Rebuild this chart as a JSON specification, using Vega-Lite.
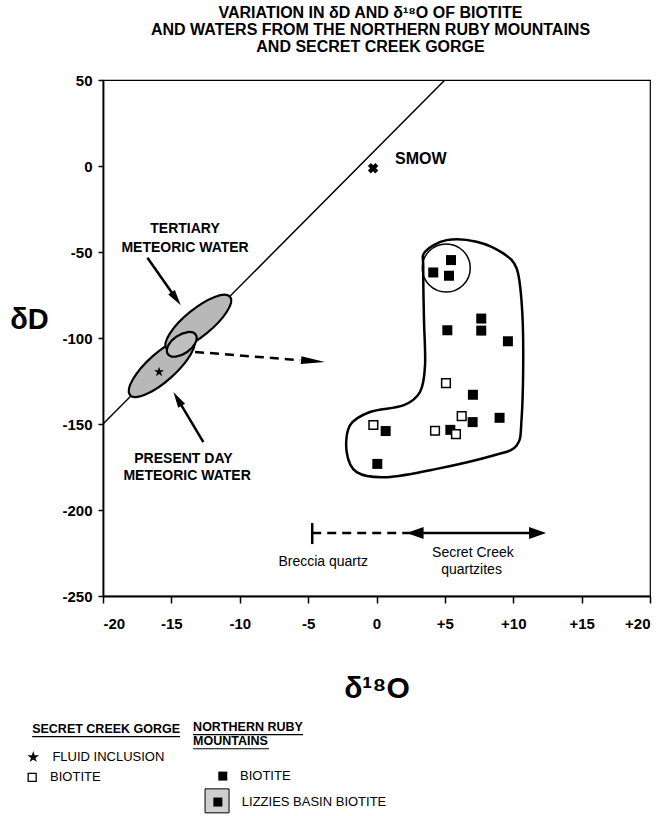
{
  "$schema": "https://vega.github.io/schema/vega-lite/v6.json",
  "autosize": "none",
  "width": 547,
  "height": 516,
  "padding": {"left": 103, "top": 80, "right": 9, "bottom": 220},
  "background": "white",
  "config": {
    "font": "Liberation Sans",
    "view": {"stroke": "black", "strokeWidth": 1.2},
    "axis": {"domainColor": "black", "domainWidth": 1.8, "tickColor": "black", "tickWidth": 1.5, "labelColor": "black", "titleColor": "black", "grid": false, "labelFont": "Liberation Sans", "titleFont": "Liberation Sans"}
  },
  "title": {
    "text": ["VARIATION IN   δD AND  δ¹⁸O  OF BIOTITE", "AND WATERS FROM THE NORTHERN RUBY MOUNTAINS", "AND SECRET CREEK GORGE"],
    "fontSize": 16, "fontWeight": "bold", "lineHeight": 17, "offset": 18, "dx": -6, "color": "black", "font": "Liberation Sans", "anchor": "middle", "frame": "group"
  },
  "datasets": {
    "mwl": [{"x": -20, "y": -150}, {"x": 5, "y": 50}],
    "boot": [
      {"i": 1, "x": 3.55, "y": -49.9}, {"i": 2, "x": 5.13, "y": -43.1}, {"i": 3, "x": 7.32, "y": -44.0},
      {"i": 4, "x": 9.27, "y": -50.8}, {"i": 5, "x": 10.25, "y": -59.6}, {"i": 6, "x": 10.61, "y": -79.0},
      {"i": 7, "x": 10.73, "y": -108.1}, {"i": 8, "x": 10.61, "y": -146.9}, {"i": 9, "x": 10.25, "y": -162.5},
      {"i": 10, "x": 8.54, "y": -168.3}, {"i": 11, "x": 4.40, "y": -176.1}, {"i": 12, "x": 0.75, "y": -180.9},
      {"i": 13, "x": -1.45, "y": -178.0}, {"i": 14, "x": -2.18, "y": -166.3}, {"i": 15, "x": -1.94, "y": -150.8},
      {"i": 16, "x": -0.48, "y": -143.0}, {"i": 17, "x": 1.96, "y": -139.2}, {"i": 18, "x": 3.18, "y": -131.4},
      {"i": 19, "x": 3.55, "y": -115.9}, {"i": 20, "x": 3.47, "y": -88.7}, {"i": 21, "x": 3.42, "y": -59.6}
    ],
    "nrm": [
      {"x": 5.45, "y": -54.7}, {"x": 4.15, "y": -61.9}, {"x": 5.30, "y": -63.8}, {"x": 5.18, "y": -95.5},
      {"x": 7.66, "y": -88.7}, {"x": 7.66, "y": -95.7}, {"x": 9.61, "y": -101.9}, {"x": 7.05, "y": -133.0},
      {"x": 9.0, "y": -146.4}, {"x": 7.03, "y": -148.9}, {"x": 0.67, "y": -154.1}, {"x": 5.40, "y": -153.4},
      {"x": 0.06, "y": -173.2}
    ],
    "scg": [
      {"x": 5.08, "y": -126.2}, {"x": 6.23, "y": -145.4}, {"x": -0.23, "y": -150.6}, {"x": 4.28, "y": -153.9}, {"x": 5.81, "y": -155.9}
    ]
  },
  "encoding": {
    "x": {"field": "x", "type": "quantitative", "scale": {"domain": [-20, 20], "nice": false, "zero": false},
      "axis": {"values": [-20, -15, -10, -5, 0, 5, 10, 15, 20], "labelExpr": "datum.value > 0 ? '+' + format(datum.value, 'd') : (datum.value < 0 ? '-' + format(-datum.value, 'd') : '0')",
        "labelFontSize": 15, "labelFontWeight": "bold", "tickSize": 7, "labelPadding": 13,
        "title": "δ¹⁸O", "titleFontSize": 30, "titleFontWeight": "bold", "titleBaseline": "alphabetic", "titleY": 101}},
    "y": {"field": "y", "type": "quantitative", "scale": {"domain": [-250, 50], "nice": false, "zero": false},
      "axis": {"values": [-250, -200, -150, -100, -50, 0, 50], "labelExpr": "datum.value < 0 ? '-' + format(-datum.value, 'd') : format(datum.value, 'd')",
        "labelFontSize": 15, "labelFontWeight": "bold", "tickSize": 5, "labelPadding": 6,
        "title": "δD", "titleFontSize": 29, "titleFontWeight": "bold", "titleAngle": 0, "titleAlign": "center", "titleBaseline": "alphabetic", "titleX": -74, "titleY": 248}}
  },
  "layer": [
    {"data": {"name": "mwl"}, "mark": {"type": "line", "color": "black", "strokeWidth": 1.5, "clip": true}},
    {"data": {"values": [{"x": -15.70, "y": -116.8}]},
      "mark": {"type": "point", "shape": "M-1,0A1,0.33,0,1,1,1,0A1,0.33,0,1,1,-1,0Z", "size": 7225, "angle": -41.8, "filled": true, "fill": "#b8b8b8", "stroke": "black", "strokeWidth": 2.2, "opacity": 1}},
    {"data": {"values": [{"x": -13.03, "y": -91.1}]},
      "mark": {"type": "point", "shape": "M-1,0A1,0.33,0,1,1,1,0A1,0.33,0,1,1,-1,0Z", "size": 6724, "angle": -39.2, "filled": true, "fill": "#b8b8b8", "stroke": "black", "strokeWidth": 2.2, "opacity": 1}},
    {"data": {"values": [{"x": -14.24, "y": -103.7}]},
      "mark": {"type": "point", "shape": "M-1,0A1,0.55,0,1,1,1,0A1,0.55,0,1,1,-1,0Z", "size": 1156, "angle": -35, "filled": true, "fill": "#c0c0c0", "stroke": "black", "strokeWidth": 2.2, "opacity": 1}},
    {"data": {"values": [{"x": -15.9, "y": -119.7}]},
      "mark": {"type": "point", "shape": "M0,-1L0.223,-0.307L0.951,-0.309L0.361,0.117L0.588,0.809L0,0.38L-0.588,0.809L-0.361,0.117L-0.951,-0.309L-0.223,-0.307Z", "size": 110, "filled": true, "color": "black", "opacity": 1}},
    {"data": {"values": [{"x": -16.75, "y": -53.3, "x2": -14.65, "y2": -77.2}, {"x": -12.66, "y": -160.5, "x2": -14.55, "y2": -135.4}, {"x": 2.82, "y": -213.4, "x2": 11.78, "y2": -213.4}, {"x": -4.7, "y": -207.6, "x2": -4.7, "y2": -219.8}]},
      "mark": {"type": "rule", "color": "black", "strokeWidth": 2.5},
      "encoding": {"x2": {"field": "x2"}, "y2": {"field": "y2"}}},
    {"data": {"values": [{"x": -13.27, "y": -108.1, "x2": -5.59, "y2": -112.9}, {"x": -4.7, "y": -213.4, "x2": 2.8, "y2": -213.4}]},
      "mark": {"type": "rule", "color": "black", "strokeWidth": 2.5, "strokeDash": [9, 6]},
      "encoding": {"x2": {"field": "x2"}, "y2": {"field": "y2"}}},
    {"data": {"values": [{"x": -14.65, "y": -77.2}]},
      "mark": {"type": "point", "shape": "M0,-1L0.5,1L-0.5,1Z", "size": 256, "angle": 144.8, "filled": true, "color": "black", "opacity": 1}},
    {"data": {"values": [{"x": -14.55, "y": -135.4}]},
      "mark": {"type": "point", "shape": "M0,-1L0.5,1L-0.5,1Z", "size": 256, "angle": -30.9, "filled": true, "color": "black", "opacity": 1}},
    {"data": {"values": [{"x": -4.64, "y": -113.4}]},
      "mark": {"type": "point", "shape": "M0,-1L0.33,1L-0.33,1Z", "size": 576, "angle": 94.4, "filled": true, "color": "black", "opacity": 1}},
    {"data": {"values": [{"x": 2.82, "y": -213.4}]},
      "mark": {"type": "point", "shape": "M0,-1L0.7,1L-0.7,1Z", "size": 289, "angle": -90, "filled": true, "color": "black", "opacity": 1}},
    {"data": {"values": [{"x": 11.78, "y": -213.4}]},
      "mark": {"type": "point", "shape": "M0,-1L0.7,1L-0.7,1Z", "size": 289, "angle": 90, "filled": true, "color": "black", "opacity": 1}},
    {"data": {"name": "boot"}, "mark": {"type": "line", "color": "black", "strokeWidth": 2.5, "interpolate": "cardinal-closed"},
      "encoding": {"order": {"field": "i", "type": "quantitative"}}},
    {"data": {"values": [{"x": 5.1, "y": -59.3}]},
      "mark": {"type": "point", "shape": "circle", "size": 2304, "filled": false, "stroke": "black", "strokeWidth": 1.5, "opacity": 1}},
    {"data": {"name": "nrm"}, "mark": {"type": "point", "shape": "square", "size": 100, "filled": true, "color": "black", "opacity": 1}},
    {"data": {"name": "scg"}, "mark": {"type": "point", "shape": "square", "size": 75, "filled": true, "fill": "white", "stroke": "black", "strokeWidth": 1.5, "opacity": 1}},
    {"data": {"values": [{"x": -0.25, "y": -1.3}]},
      "mark": {"type": "point", "shape": "cross", "size": 110, "angle": 45, "filled": true, "color": "black", "opacity": 1}},
    {"data": {"values": [{"x": 1.35, "y": 3.9, "t": "SMOW"}]},
      "mark": {"type": "text", "align": "left", "baseline": "middle", "fontSize": 16, "fontWeight": "bold", "color": "black"},
      "encoding": {"text": {"field": "t"}}},
    {"data": {"values": [{"x": -14.0, "y": -36.7, "t": "TERTIARY"}, {"x": -14.0, "y": -47.5, "t": "METEORIC WATER"}, {"x": -14.12, "y": -170.2, "t": "PRESENT DAY"}, {"x": -13.85, "y": -180.3, "t": "METEORIC WATER"}]},
      "mark": {"type": "text", "align": "center", "baseline": "middle", "fontSize": 14, "fontWeight": "bold", "color": "black"},
      "encoding": {"text": {"field": "t"}}},
    {"data": {"values": [{"x": -3.9, "y": -230, "t": "Breccia quartz"}, {"x": 7.05, "y": -224.8, "t": "Secret Creek"}, {"x": 6.95, "y": -234.7, "t": "quartzites"}]},
      "mark": {"type": "text", "align": "center", "baseline": "middle", "fontSize": 14, "color": "black"},
      "encoding": {"text": {"field": "t"}}},
    {"data": {"values": [{"x": -25.18, "y": -327.5, "t": "SECRET CREEK GORGE"}, {"x": -13.41, "y": -326.3, "t": "NORTHERN RUBY"}, {"x": -13.41, "y": -334.5, "t": "MOUNTAINS"}]},
      "mark": {"type": "text", "align": "left", "baseline": "middle", "fontSize": 12.5, "fontWeight": "bold", "color": "black"},
      "encoding": {"text": {"field": "t"}}},
    {"data": {"values": [{"x": -25.18, "y": -331.8, "x2": -14.36, "y2": -331.8}, {"x": -13.41, "y": -330.6, "x2": -5.37, "y2": -330.6}, {"x": -13.41, "y": -338.8, "x2": -7.86, "y2": -338.8}]},
      "mark": {"type": "rule", "color": "black", "strokeWidth": 1.2},
      "encoding": {"x2": {"field": "x2"}, "y2": {"field": "y2"}}},
    {"data": {"values": [{"x": -23.7, "y": -343.7, "t": "FLUID INCLUSION"}, {"x": -23.87, "y": -355.4, "t": "BIOTITE"}, {"x": -9.98, "y": -354.7, "t": "BIOTITE"}, {"x": -9.85, "y": -369.8, "t": "LIZZIES BASIN BIOTITE"}]},
      "mark": {"type": "text", "align": "left", "baseline": "middle", "fontSize": 13, "color": "black"},
      "encoding": {"text": {"field": "t"}}},
    {"data": {"values": [{"x": -25.1, "y": -343.7}]},
      "mark": {"type": "point", "shape": "M0,-1L0.223,-0.307L0.951,-0.309L0.361,0.117L0.588,0.809L0,0.38L-0.588,0.809L-0.361,0.117L-0.951,-0.309L-0.223,-0.307Z", "size": 150, "filled": true, "color": "black", "opacity": 1}},
    {"data": {"values": [{"x": -25.18, "y": -355.4}]},
      "mark": {"type": "point", "shape": "square", "size": 64, "filled": true, "fill": "white", "stroke": "black", "strokeWidth": 1.3, "opacity": 1}},
    {"data": {"values": [{"x": -11.66, "y": -369.1}]},
      "mark": {"type": "point", "shape": "square", "size": 576, "filled": true, "fill": "#cfcfcf", "stroke": "black", "strokeWidth": 1, "opacity": 1}},
    {"data": {"values": [{"x": -11.24, "y": -354.7}, {"x": -11.6, "y": -369.8}]},
      "mark": {"type": "point", "shape": "square", "size": 81, "filled": true, "color": "black", "opacity": 1}}
  ]
}
